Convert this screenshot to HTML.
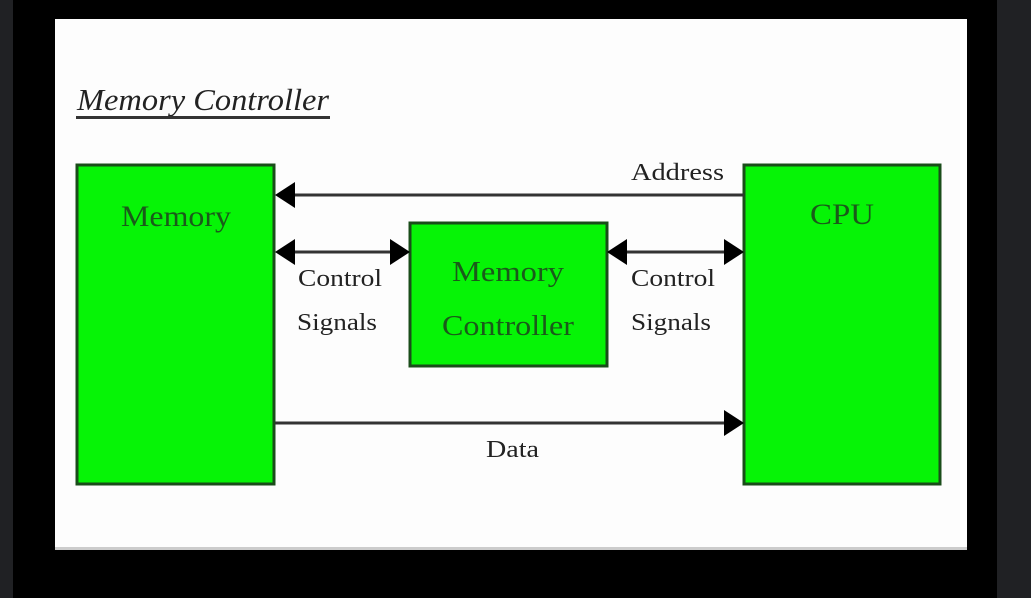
<!DOCTYPE html>
<html><head><style>
html,body{margin:0;padding:0;background:#000;}
svg{display:block}
text{font-family:"Liberation Serif",serif;}
</style></head><body>
<svg width="1031" height="598" viewBox="0 0 1031 598" xmlns="http://www.w3.org/2000/svg">
<rect x="0" y="0" width="1031" height="598" fill="#000"/>
<rect x="0" y="0" width="13" height="598" fill="#202124"/>
<rect x="997" y="0" width="34" height="598" fill="#202124"/>
<rect x="55" y="19" width="912" height="530" fill="#fdfdfd"/>
<rect x="55" y="547" width="912" height="3" fill="#ccc"/>
<text x="77" y="110" font-size="31" font-style="italic" fill="#222" textLength="252" lengthAdjust="spacingAndGlyphs">Memory Controller</text>
<rect x="76" y="116" width="254" height="3" fill="#333"/>
<g stroke="#1a4d1a" stroke-width="3" fill="#06f406">
<rect x="77" y="165" width="197" height="319"/>
<rect x="744" y="165" width="196" height="319"/>
<rect x="410" y="223" width="197" height="143"/>
</g>
<g fill="#1a5a1a" text-anchor="middle">
<text x="176" y="226" font-size="30" textLength="110" lengthAdjust="spacingAndGlyphs">Memory</text>
<text x="842" y="224" font-size="30" textLength="64" lengthAdjust="spacingAndGlyphs">CPU</text>
<text x="508" y="281" font-size="28" textLength="112" lengthAdjust="spacingAndGlyphs">Memory</text>
<text x="508" y="335" font-size="28" textLength="132" lengthAdjust="spacingAndGlyphs">Controller</text>
</g>
<g stroke="#333" stroke-width="3">
<line x1="290" y1="195" x2="744" y2="195"/>
<line x1="290" y1="252" x2="395" y2="252"/>
<line x1="622" y1="252" x2="728" y2="252"/>
<line x1="275" y1="423" x2="728" y2="423"/>
</g>
<g fill="#000">
<polygon points="275,195 295,182 295,208"/>
<polygon points="275,252 295,239 295,265"/>
<polygon points="410,252 390,239 390,265"/>
<polygon points="607,252 627,239 627,265"/>
<polygon points="744,252 724,239 724,265"/>
<polygon points="744,423 724,410 724,436"/>
</g>
<g fill="#222" font-size="24">
<text x="631" y="180" textLength="93" lengthAdjust="spacingAndGlyphs">Address</text>
<text x="298" y="286" textLength="84" lengthAdjust="spacingAndGlyphs">Control</text>
<text x="297" y="330" textLength="80" lengthAdjust="spacingAndGlyphs">Signals</text>
<text x="631" y="286" textLength="84" lengthAdjust="spacingAndGlyphs">Control</text>
<text x="631" y="330" textLength="80" lengthAdjust="spacingAndGlyphs">Signals</text>
<text x="486" y="457" textLength="53" lengthAdjust="spacingAndGlyphs">Data</text>
</g>
</svg>
</body></html>
